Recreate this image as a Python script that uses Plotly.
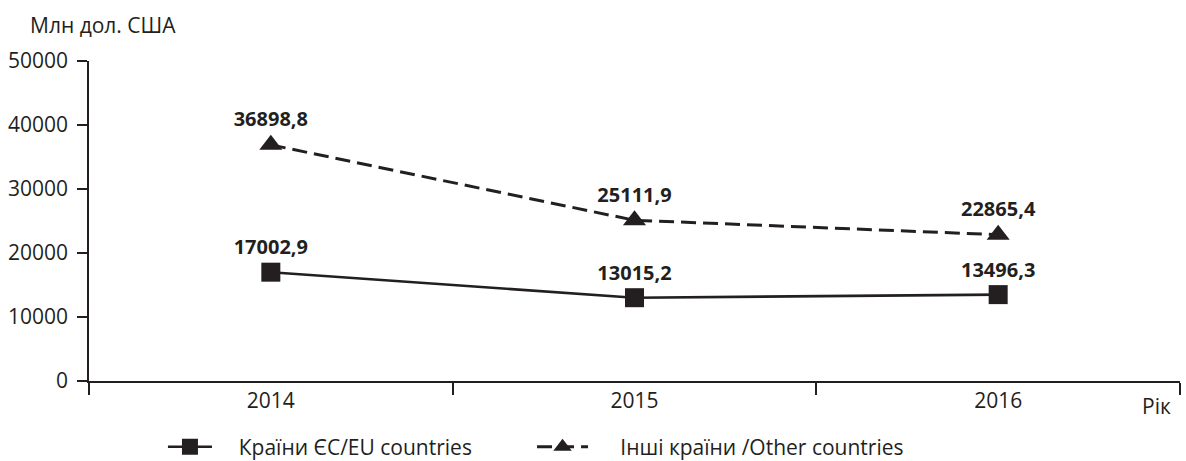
import plotly.graph_objects as go

years = ["2014", "2015", "2016"]
eu_values = [17002.9, 13015.2, 13496.3]
other_values = [36898.8, 25111.9, 22865.4]
eu_labels = ["17002,9", "13015,2", "13496,3"]
other_labels = ["36898,8", "25111,9", "22865,4"]
y_ticks = [0, 10000, 20000, 30000, 40000, 50000]
series_names = ["Країни ЄС/EU countries", "Інші країни /Other countries"]

INK = "#231f20"
FONT = "Open Sans"
NB = "\u00a0"

fig = go.Figure()
fig.add_trace(go.Scatter(
    x=years, y=eu_values, name=NB * 4 + series_names[0],
    mode="lines+markers+text", text=eu_labels, textposition="top center",
    textfont=dict(family=FONT, size=20, color=INK, weight="bold"),
    line=dict(color=INK, width=2.6),
    marker=dict(symbol="square", size=19, color=INK),
    cliponaxis=False, legend="legend",
))
fig.add_trace(go.Scatter(
    x=years, y=other_values, name=NB * 5 + series_names[1],
    mode="lines+markers+text", text=other_labels, textposition="top center",
    textfont=dict(family=FONT, size=20, color=INK, weight="bold"),
    line=dict(color=INK, width=3, dash="15px,7px"),
    marker=dict(symbol="triangle-up", size=20, color=INK),
    cliponaxis=False, legend="legend2",
))

legend_common = dict(
    orientation="h", xref="container", yref="container",
    xanchor="left", yanchor="middle", bgcolor="rgba(0,0,0,0)",
    font=dict(family=FONT, size=21, color=INK),
)

fig.update_layout(
    width=1186, height=461,
    margin=dict(l=89, r=6, t=61, b=80, autoexpand=False),
    paper_bgcolor="white", plot_bgcolor="white",
    font=dict(family=FONT, size=21, color=INK),
    showlegend=True,
    legend=dict(x=0.1374, y=0.03, itemwidth=44, **legend_common),
    legend2=dict(x=0.4486, y=0.03, itemwidth=51, **legend_common),
    xaxis=dict(
        type="category", range=[-0.5, 2.5], tickson="boundaries",
        ticks="outside", ticklen=12, tickwidth=1.5, tickcolor=INK,
        showline=True, linecolor=INK, linewidth=1.5,
        showgrid=False, zeroline=False, automargin=False,
        tickfont=dict(family=FONT, size=21, color=INK),
    ),
    yaxis=dict(
        range=[0, 50000], tickvals=y_ticks, ticktext=[str(v) for v in y_ticks],
        ticks="outside", ticklen=10, tickwidth=1.5, tickcolor=INK,
        showline=True, linecolor=INK, linewidth=1.5,
        showgrid=False, zeroline=False, automargin=False,
        tickfont=dict(family=FONT, size=21, color=INK),
        ticklabelstandoff=5,
    ),
    annotations=[
        dict(text="Млн дол. США", xref="paper", yref="paper",
             x=-0.0559, y=1.1125, xanchor="left", yanchor="middle",
             showarrow=False, font=dict(family=FONT, size=21, color=INK)),
        dict(text="Рік", xref="paper", yref="paper",
             x=0.9936, y=-0.078, xanchor="right", yanchor="middle",
             showarrow=False, font=dict(family=FONT, size=21, color=INK)),
    ],
)

fig.write_html(
    "out.html",
    config={"displayModeBar": False},
    post_script="document.body.style.margin='0';document.body.style.overflow='hidden';",
)
